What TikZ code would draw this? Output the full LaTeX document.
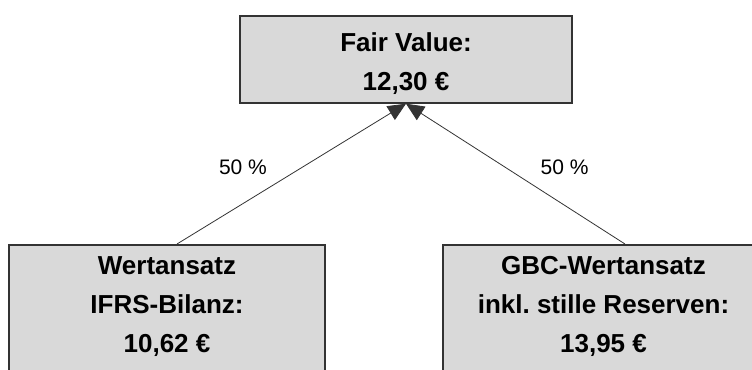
\documentclass[tikz,border=0pt]{standalone}
\usepackage{fontspec}
\setmainfont{Liberation Sans}
\usetikzlibrary{arrows.meta}

\begin{document}
\begin{tikzpicture}[x=0.5pt,y=-0.5pt,>={Triangle[length=9pt,width=8pt]},
    wert/.style={draw=black!80,line width=1pt,fill=black!15,align=center,inner ysep=0pt,
      font=\fontsize{13}{19.5}\selectfont\bfseries},
    pct/.style={font=\fontsize{10.5}{12}\selectfont,text=black}]
  \useasboundingbox (0,0) rectangle (752,370);
  \clip (0,0) rectangle (752,370);
  % boxes
  \node[wert,minimum width=166pt,anchor=north] (fv) at (406,14.7)
    {\rule{0pt}{17.65pt}Fair Value:\\12,30~€\rule[-6.35pt]{0pt}{6.35pt}};
  \node[wert,minimum width=158pt,anchor=north] (ifrs) at (167,244)
    {\rule{0pt}{14.5pt}Wertansatz\\IFRS-Bilanz:\\10,62~€\rule[-15pt]{0pt}{15pt}};
  \node[wert,minimum width=160.5pt,anchor=north] (gbc) at (603.5,244)
    {\rule{0pt}{14.5pt}GBC-Wertansatz\\inkl.\ stille Reserven:\\13,95~€\rule[-15pt]{0pt}{15pt}};
  % weights
  \draw[->,black!80,line width=0.4pt] ([xshift=5pt]ifrs.north) -- node[pct,pos=0.55,left=14.5pt]{50 \%} (fv.south);
  \draw[->,black!80,line width=0.4pt] ([xshift=10.75pt]gbc.north) -- node[pct,pos=0.55,right=14.5pt]{50 \%} (fv.south);
\end{tikzpicture}
\end{document}
